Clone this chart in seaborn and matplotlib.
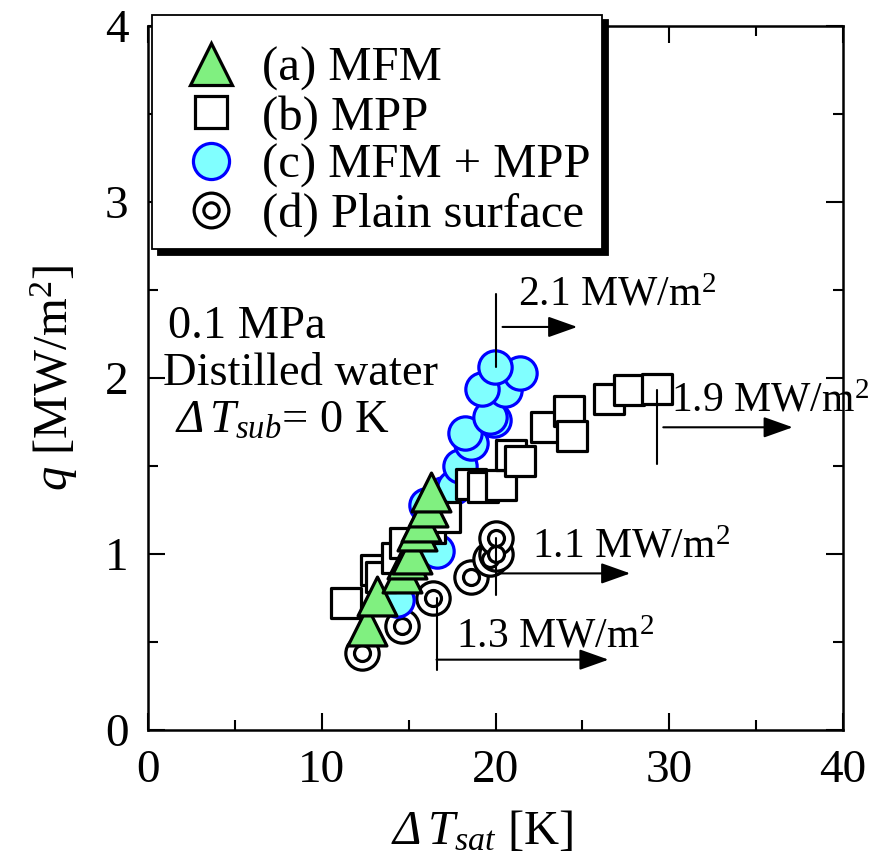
import matplotlib
matplotlib.use("Agg")
import matplotlib.pyplot as plt
import seaborn as sns
import pandas as pd
from matplotlib.lines import Line2D
from matplotlib.legend_handler import HandlerTuple

# ---------------- data ----------------
mfm_x = [12.6, 13.2, 14.6, 14.9, 15.2, 15.5, 15.7, 16.1, 16.3]
mfm_y = [0.59, 0.76, 0.89, 0.97, 1.00, 1.13, 1.18, 1.27, 1.35]

mpp_x = [11.4, 13.1, 13.4, 14.3, 14.8, 16.2, 17.1, 18.6, 19.3, 20.3,
         20.9, 21.4, 22.9, 24.2, 24.4, 26.5, 27.7, 29.3]
mpp_y = [0.72, 0.91, 0.87, 0.98, 1.06, 1.15, 1.21, 1.40, 1.38, 1.39,
         1.56, 1.53, 1.72, 1.81, 1.67, 1.88, 1.93, 1.94]

both_x = [14.3, 16.6, 16.0, 17.0, 17.6, 17.96, 18.6, 18.25, 19.9, 19.7,
          20.55, 19.2, 21.4, 19.98]
both_y = [0.74, 1.02, 1.28, 1.34, 1.38, 1.50, 1.63, 1.69, 1.76, 1.78,
          1.93, 1.94, 2.03, 2.06]

plain_x = [12.3, 14.6, 16.4, 18.6, 19.7, 20.0, 20.0]
plain_y = [0.44, 0.59, 0.75, 0.87, 0.97, 1.00, 1.09]

labels = ["(a) MFM", "(b) MPP", "(c) MFM + MPP", "(d) Plain surface"]

# CHF annotations
chf_text = [r"2.1 MW/m$^{\mathsf{2}}$", r"1.9 MW/m$^{\mathsf{2}}$",
            r"1.1 MW/m$^{\mathsf{2}}$", r"1.3 MW/m$^{\mathsf{2}}$"]
chf_x = [20.0, 29.3, 20.0, 16.6]
chf_top = [2.48, 1.93, 1.09, 0.75]
chf_bottom = [2.06, 1.51, 0.77, 0.34]
chf_arrow_y = [2.29, 1.72, 0.89, 0.40]
chf_arrow_x0 = [20.4, 29.65, 20.25, 16.6]
chf_arrow_x1 = [24.7, 37.1, 27.75, 26.5]
chf_text_x = [21.3, 30.1, 22.1, 17.7]
chf_text_y = [2.41, 1.81, 0.98, 0.47]

cond_text = ["0.1 MPa", "Distilled water", r"$\Delta\,T_{sub}$= 0 K"]
cond_x = [1.15, 0.86, 1.55]
cond_y = [2.23, 1.96, 1.69]

# ---------------- style ----------------
sns.set_style("ticks")
plt.rcParams["font.family"] = ["Liberation Serif", "DejaVu Serif"]
plt.rcParams["mathtext.fontset"] = "custom"
plt.rcParams["mathtext.rm"] = "Liberation Serif:italic"
plt.rcParams["mathtext.it"] = "Liberation Serif:italic"
plt.rcParams["mathtext.sf"] = "Liberation Serif"
plt.rcParams["mathtext.bf"] = "Liberation Serif:bold"
plt.rcParams["text.color"] = "black"
plt.rcParams["axes.labelcolor"] = "black"
plt.rcParams["xtick.color"] = "black"
plt.rcParams["ytick.color"] = "black"

fig = plt.figure(figsize=(8.71, 8.64), dpi=100)
ax = fig.add_axes([0.170, 0.155, 0.798, 0.815])

green = "#80f080"
cyan = "#80ffff"
blue = "#0000ff"

df_plain = pd.DataFrame({"x": plain_x, "y": plain_y})
df_both = pd.DataFrame({"x": both_x, "y": both_y})
df_mpp = pd.DataFrame({"x": mpp_x, "y": mpp_y})
df_mfm = pd.DataFrame({"x": mfm_x, "y": mfm_y})

ms_circ = 24.0
sns.scatterplot(data=df_plain, x="x", y="y", marker="o", s=ms_circ**2,
                color="white", edgecolor="black", linewidth=2.3, ax=ax, zorder=2)
sns.scatterplot(data=df_plain, x="x", y="y", marker="o", s=11.5**2,
                color="white", edgecolor="black", linewidth=2.3, ax=ax, zorder=2)
sns.scatterplot(data=df_both, x="x", y="y", marker="o", s=ms_circ**2,
                color=cyan, edgecolor=blue, linewidth=2.3, ax=ax, zorder=3)
sns.scatterplot(data=df_mpp, x="x", y="y", marker="s", s=21.5**2,
                color="white", edgecolor="black", linewidth=2.3, ax=ax, zorder=4)
sns.scatterplot(data=df_mfm, x="x", y="y", marker="^", s=28**2,
                color=green, edgecolor="black", linewidth=2.3, ax=ax, zorder=5)

# CHF annotations
for t, x, y0, y1, ya, xa0, xa1, tx, ty in zip(chf_text, chf_x, chf_top, chf_bottom,
                                              chf_arrow_y, chf_arrow_x0, chf_arrow_x1,
                                              chf_text_x, chf_text_y):
    ax.plot([x, x], [y1, y0], color="black", lw=1.5, zorder=6)
    ax.annotate("", xy=(xa1, ya), xytext=(xa0, ya),
                arrowprops=dict(arrowstyle="-|>,head_length=0.9,head_width=0.32",
                                mutation_scale=20, color="black", lw=1.5,
                                shrinkA=0, shrinkB=0),
                zorder=6)
    ax.text(tx, ty, t, fontsize=30, va="baseline", ha="left", zorder=7)

for t, x, y in zip(cond_text, cond_x, cond_y):
    ax.text(x, y, t, fontsize=33.5, va="baseline", ha="left", zorder=7)

# axes
ax.set_xlim(0, 40)
ax.set_ylim(0, 4)
ax.set_xticks([0, 10, 20, 30, 40])
ax.set_xticks([5, 15, 25, 35], minor=True)
ax.set_yticks([0, 1, 2, 3, 4])
ax.set_yticks([0.5, 1.5, 2.5, 3.5], minor=True)
ax.tick_params(which="both", direction="in", top=True, right=True, width=1.5,
               labelsize=34, colors="black", pad=14)
ax.tick_params(which="major", length=12)
ax.tick_params(which="minor", length=7)
for sp in ax.spines.values():
    sp.set_linewidth(1.8)
    sp.set_color("black")
ax.set_xlabel(r"$\Delta\,T_{sat}$ [K]", fontsize=35, labelpad=12)
ax.xaxis.label.set_x(0.48)
ax.set_ylabel(r"$q$ [MW/m$^{\mathsf{2}}$]", fontsize=35, labelpad=18)

# legend
h_a = Line2D([], [], marker="^", ls="none", ms=30, mfc=green, mec="black", mew=2.3)
h_b = Line2D([], [], marker="s", ms=23, ls="none", mfc="white", mec="black", mew=2.3)
h_c = Line2D([], [], marker="o", ms=26, ls="none", mfc=cyan, mec=blue, mew=2.3)
h_d1 = Line2D([], [], marker="o", ms=25, ls="none", mfc="white", mec="black", mew=2.3)
h_d2 = Line2D([], [], marker="o", ms=11, ls="none", mfc="white", mec="black", mew=2.3)
leg = ax.legend([h_a, h_b, h_c, (h_d1, h_d2)], labels,
                handler_map={tuple: HandlerTuple(ndivide=1, pad=0)},
                loc="upper left", bbox_to_anchor=(0.006, 1.016), borderaxespad=0,
                fontsize=35, frameon=True, fancybox=False, framealpha=1,
                edgecolor="black", handlelength=1.9, handletextpad=0.1,
                labelspacing=0.08, borderpad=0.25,
                title=" ", title_fontsize=12,
                shadow={"ox": 4, "oy": -4, "color": "black", "alpha": 1})
leg.get_frame().set_linewidth(1.3)
leg.set_zorder(10)

fig.savefig("out.png", dpi=100)
